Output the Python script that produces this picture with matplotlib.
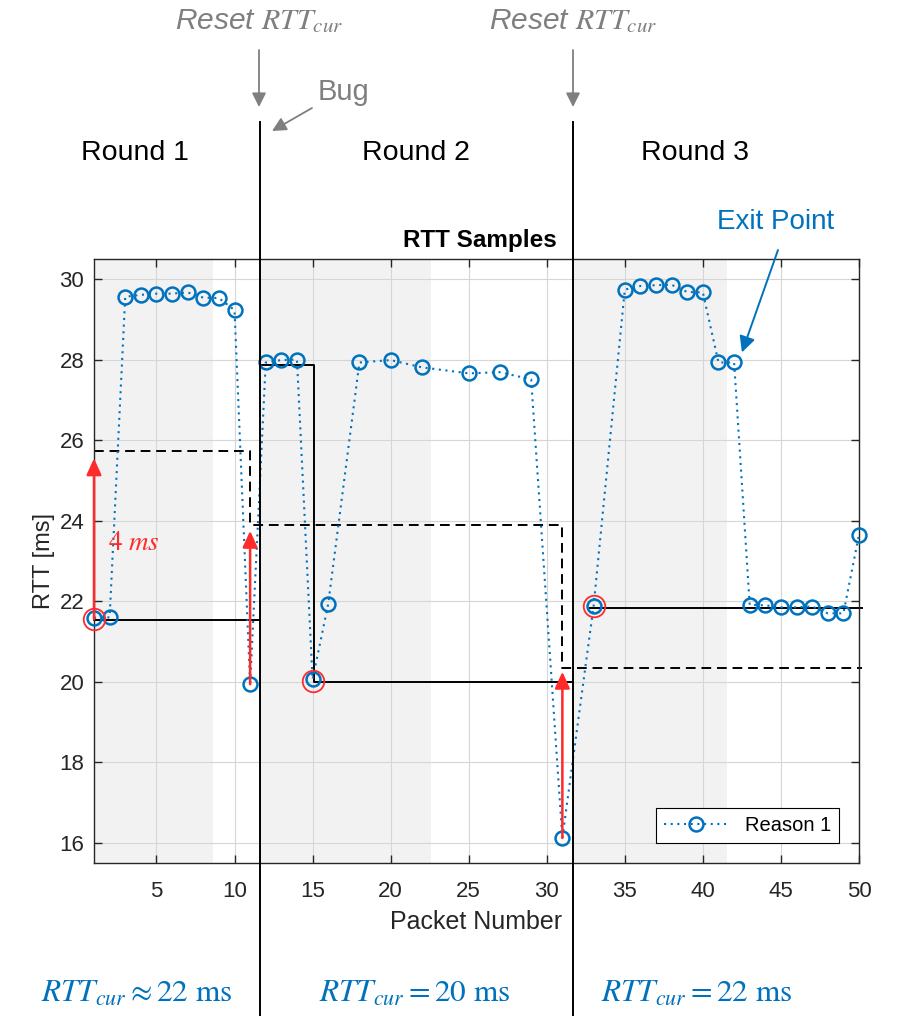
import matplotlib.pyplot as plt
from matplotlib.transforms import blended_transform_factory

plt.rcParams['font.family'] = ['Liberation Sans', 'DejaVu Sans']
plt.rcParams['mathtext.fontset'] = 'stix'

blue = '#0072BD'
red = '#FF2B2B'
gray = '#7F7F7F'
ink = '#262626'

# RTT samples (packet number, ms)
packet = [1, 2, 3, 4, 5, 6, 7, 8, 9, 10, 11,
          12, 13, 14, 15, 16, 18, 20, 22, 25, 27, 29, 31,
          33, 35, 36, 37, 38, 39, 40, 41, 42, 43, 44, 45, 46, 47, 48, 49, 50]
rtt = [21.59, 21.6, 29.56, 29.61, 29.64, 29.64, 29.67, 29.54, 29.53, 29.23, 19.94,
       27.93, 27.99, 28.0, 20.06, 21.93, 27.93, 27.99, 27.81, 27.66, 27.69, 27.51, 16.12,
       21.88, 29.74, 29.83, 29.85, 29.86, 29.68, 29.67, 27.93, 27.93, 21.91, 21.9, 21.85,
       21.85, 21.87, 21.7, 21.7, 23.65]

round_edges = [11.66, 31.66]
shade_spans = [(1, 8.63), (11.66, 22.6), (31.66, 41.55)]

# RTT_cur per round (solid)
cur_x = [[1, 11.66], [11.66, 15.1, 15.1, 31.66], [32.8, 50.2]]
cur_y = [[21.54, 21.54], [27.87, 27.87, 20.0, 20.0], [21.84, 21.84]]
# threshold (dashed)
thr_x = [1, 11, 11, 31, 31, 50.2]
thr_y = [25.73, 25.73, 23.89, 23.89, 20.35, 20.35]

min_x = [1, 15, 33]
min_y = [21.55, 20.03, 21.88]

arrow_x = [1, 11, 31]
arrow_lo = [21.55, 19.94, 16.12]
arrow_hi = [25.55, 23.75, 20.25]

round_labels = ['Round 1', 'Round 2', 'Round 3']
bottom_labels = [r'$RTT_{cur} \approx 22\ \mathrm{ms}$',
                 r'$RTT_{cur} = 20\ \mathrm{ms}$',
                 r'$RTT_{cur} = 22\ \mathrm{ms}$']

W, H = 902, 1016


def fx(px):
    return px / W


def fy(py):
    return 1 - py / H


fig = plt.figure(figsize=(W / 100, H / 100), dpi=100)
ax = fig.add_axes([fx(94), fy(863), fx(859) - fx(94), fy(259) - fy(863)])

for a, b in shade_spans:
    ax.axvspan(a, b, color='#f2f2f2', lw=0, zorder=0.2)

ax.plot(packet, rtt, linestyle=(0, (1, 2.2)), color=blue, lw=1.5, marker='o', ms=10,
        mew=1.8, mfc='none', mec=blue, label='Reason 1', zorder=3, clip_on=False)

for xs, ys in zip(cur_x, cur_y):
    ax.plot(xs, ys, color='k', lw=1.4, clip_on=False, zorder=2)
ax.plot(thr_x, thr_y, color='k', lw=1.4, ls=(0, (5, 3)), clip_on=False, zorder=2)

ax.plot(min_x, min_y, 'o', ms=15.5, mfc='none', mec=red, mew=1.3, zorder=4, clip_on=False)

for x, lo, hi in zip(arrow_x, arrow_lo, arrow_hi):
    ax.annotate('', xy=(x, hi), xytext=(x, lo),
                arrowprops=dict(arrowstyle='-|>,head_length=0.55,head_width=0.25',
                                color=red, lw=1.8, mutation_scale=18,
                                shrinkA=0, shrinkB=0), zorder=5)
ax.text(3.53, 23.45, r'$4\ ms$', color=red, fontsize=19.5, ha='center', va='center')

trans = blended_transform_factory(ax.transData, fig.transFigure)
for x in round_edges:
    ax.plot([x, x], [fy(122), 0], color='k', lw=1.4, transform=trans,
            clip_on=False, scalex=False, scaley=False, zorder=6)

ax.set_xlim(1, 50)
ax.set_ylim(15.5, 30.5)
ax.set_xticks(range(5, 51, 5))
ax.set_yticks(range(16, 31, 2))
ax.grid(True, color='#d6d6d6', lw=0.8)
ax.set_axisbelow(True)
ax.tick_params(direction='in', top=True, right=True, length=6, width=1,
               labelsize=16, colors=ink)
ax.tick_params(axis='x', pad=13)
ax.tick_params(axis='y', pad=7)
for s in ax.spines.values():
    s.set_color(ink)
    s.set_linewidth(1)
ax.set_xlabel('Packet Number', fontsize=18, color=ink, labelpad=6)
ax.set_ylabel('RTT [ms]', fontsize=17, color=ink, labelpad=3)

leg = ax.legend(loc='lower right', fancybox=False, edgecolor='k', framealpha=1,
                fontsize=14.5, handlelength=3.2, borderaxespad=1.0)
leg.get_frame().set_linewidth(0.8)

fig.text(fx(480), fy(240), 'RTT Samples', fontweight='bold', fontsize=17.5,
         ha='center', va='center', color='k')

for px, lab in zip([135, 416, 695], round_labels):
    fig.text(fx(px), fy(153), lab, fontsize=20.5, ha='center', va='center', color='k')
for px, lab in zip([137, 415, 697], bottom_labels):
    fig.text(fx(px), fy(994), lab, fontsize=22.5, ha='center', va='center', color=blue)

for px in [259, 573]:
    fig.text(fx(px), fy(21), r'Reset $RTT_{cur}$', fontsize=21.5, style='italic',
             ha='center', va='center', color=gray)
    ax.annotate('', xy=(fx(px), fy(107)), xytext=(fx(px), fy(50)),
                xycoords='figure fraction', textcoords='figure fraction',
                arrowprops=dict(arrowstyle='-|>,head_length=0.6,head_width=0.3',
                                color=gray, lw=1.3, mutation_scale=14,
                                shrinkA=0, shrinkB=0))

fig.text(fx(344), fy(92), 'Bug', fontsize=21, ha='center', va='center', color=gray)
ax.annotate('', xy=(fx(272), fy(131)), xytext=(fx(312), fy(108)),
            xycoords='figure fraction', textcoords='figure fraction',
            arrowprops=dict(arrowstyle='-|>,head_length=0.6,head_width=0.3',
                            color=gray, lw=1.3, mutation_scale=14,
                            shrinkA=0, shrinkB=0))

fig.text(fx(776), fy(222), 'Exit Point', fontsize=20, ha='center', va='center', color=blue)
ax.annotate('', xy=(42.5, 28.18), xycoords='data',
            xytext=(fx(778), fy(250)), textcoords='figure fraction',
            arrowprops=dict(arrowstyle='-|>,head_length=0.6,head_width=0.3',
                            color=blue, lw=1.4, mutation_scale=16,
                            shrinkA=0, shrinkB=0), annotation_clip=False)

fig.savefig('out.png', dpi=100)
